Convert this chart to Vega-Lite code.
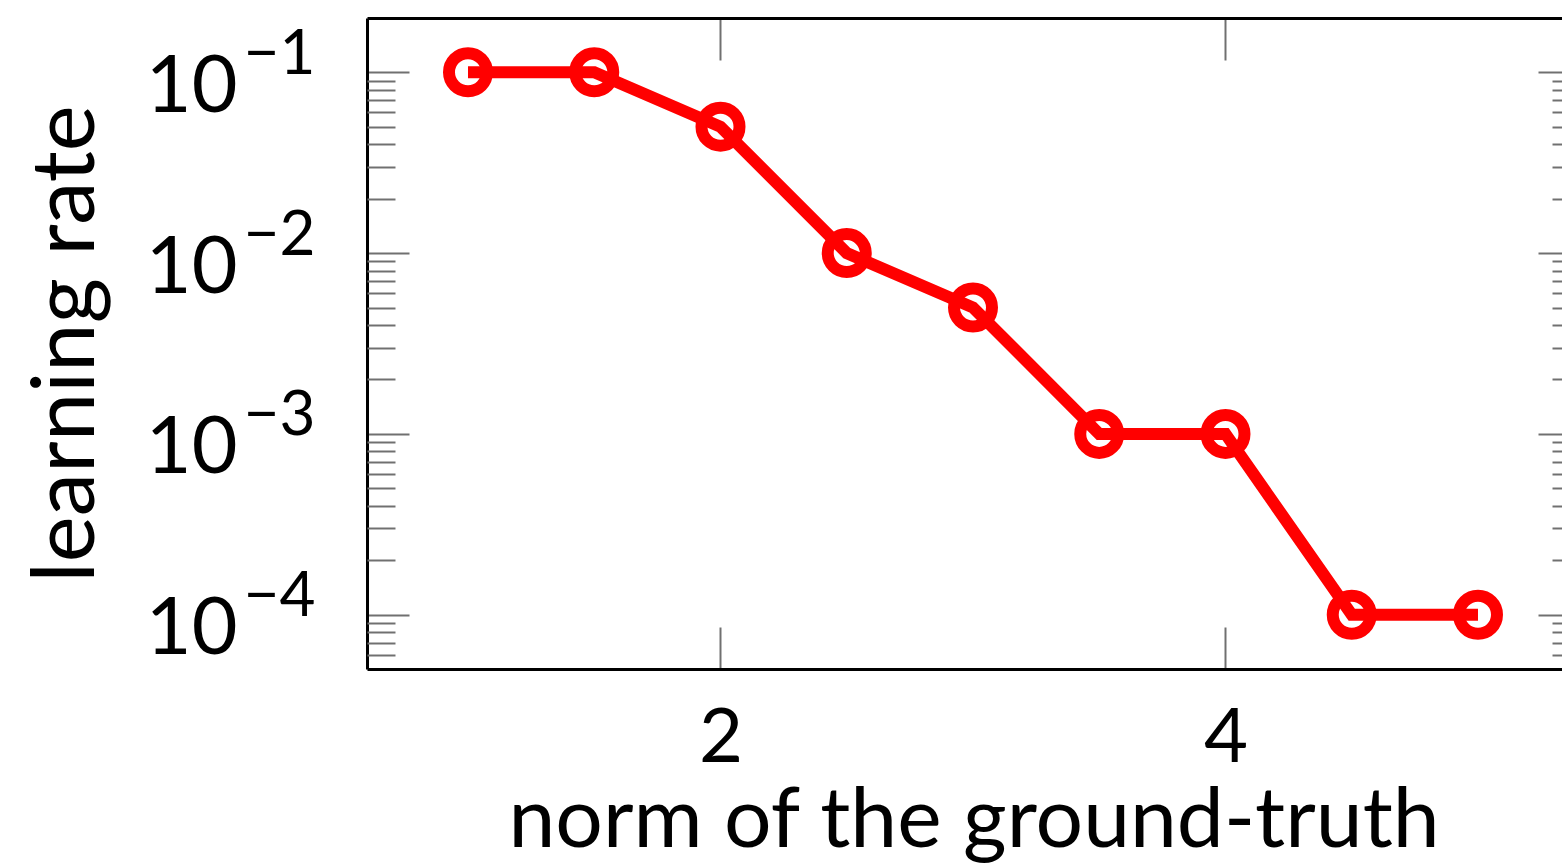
{
  "$schema": "https://vega.github.io/schema/vega-lite/v6.json",
  "width": 1195,
  "height": 651,
  "autosize": {"type": "none"},
  "padding": {"left": 367, "top": 18, "right": 0, "bottom": 196},
  "background": "white",
  "config": {
    "view": {"stroke": null},
    "font": "Lato",
    "axis": {
      "grid": false,
      "tickColor": "#707070",
      "tickWidth": 2,
      "domainColor": "#000000",
      "domainWidth": 3,
      "labelColor": "#000000",
      "titleColor": "#000000",
      "labelFont": "Lato",
      "titleFont": "Lato",
      "labelFontWeight": "normal",
      "titleFontWeight": "normal",
      "labelOverlap": false,
      "labelFlush": false
    }
  },
  "data": {
    "values": [
      {"norm": 1.0, "lr": 0.1},
      {"norm": 1.5, "lr": 0.1},
      {"norm": 2.0, "lr": 0.05},
      {"norm": 2.5, "lr": 0.01},
      {"norm": 3.0, "lr": 0.005},
      {"norm": 3.5, "lr": 0.001},
      {"norm": 4.0, "lr": 0.001},
      {"norm": 4.5, "lr": 0.0001},
      {"norm": 5.0, "lr": 0.0001}
    ]
  },
  "resolve": {"axis": {"x": "independent", "y": "independent"}},
  "layer": [
    {
      "mark": {"type": "line", "color": "#ff0000", "strokeWidth": 12},
      "encoding": {
        "x": {
          "field": "norm", "type": "quantitative",
          "scale": {"domain": [0.6, 5.3327], "nice": false, "zero": false},
          "axis": {
            "orient": "bottom", "values": [2, 4], "tickSize": -42,
            "labelFontSize": 76, "labelPadding": 134, "labelBaseline": "alphabetic", "labelAngle": 0,
            "title": "norm of the ground-truth", "titleFontSize": 84,
            "titleX": 606.5, "titleY": 177, "titleBaseline": "alphabetic", "titleAlign": "center",
            "domain": true
          }
        },
        "y": {
          "field": "lr", "type": "quantitative",
          "scale": {"type": "log", "domain": [0.000050119, 0.19953], "nice": false},
          "axis": {
            "orient": "left", "values": [0.0001, 0.001, 0.01, 0.1], "tickSize": -42,
            "labelExpr": "'10'", "labelFontSize": 79, "labelPadding": 172, "labelAlign": "right",
            "labelBaseline": "alphabetic", "labelOffset": 39,
            "title": "learning rate", "titleFontSize": 87, "titleAngle": -90,
            "titleX": -274, "titleY": 325.5, "titleAlign": "center", "titleBaseline": "alphabetic",
            "domain": true
          }
        }
      }
    },
    {
      "mark": {"type": "point", "shape": "circle", "filled": false, "color": "#ff0000", "strokeWidth": 12, "size": 1444, "opacity": 1},
      "encoding": {
        "x": {
          "field": "norm", "type": "quantitative",
          "scale": {"domain": [0.6, 5.3327], "nice": false, "zero": false},
          "axis": {"orient": "top", "values": [2, 4], "tickSize": -42, "labels": false, "title": null, "domain": true}
        },
        "y": {
          "field": "lr", "type": "quantitative",
          "scale": {"type": "log", "domain": [0.000050119, 0.19953], "nice": false},
          "axis": {
            "orient": "left", "values": [0.0001, 0.001, 0.01, 0.1], "ticks": false, "domain": false,
            "labelExpr": "'−' + round(-log(datum.value) / LN10)", "labelFontSize": 62,
            "labelAlign": "left", "labelPadding": 124, "labelBaseline": "alphabetic", "labelOffset": 1,
            "title": null
          }
        }
      }
    },
    {
      "mark": {"type": "point", "opacity": 0},
      "encoding": {
        "x": {"field": "norm", "type": "quantitative", "scale": {"domain": [0.6, 5.3327], "nice": false, "zero": false}, "axis": null},
        "y": {
          "field": "lr", "type": "quantitative",
          "scale": {"type": "log", "domain": [0.000050119, 0.19953], "nice": false},
          "axis": {
            "orient": "left",
            "values": [0.00006, 0.00007, 0.00008, 0.00009, 0.0002, 0.0003, 0.0004, 0.0005, 0.0006, 0.0007, 0.0008, 0.0009, 0.002, 0.003, 0.004, 0.005, 0.006, 0.007, 0.008, 0.009, 0.02, 0.03, 0.04, 0.05, 0.06, 0.07, 0.08, 0.09],
            "tickSize": -28, "labels": false, "domain": false, "title": null
          }
        }
      }
    },
    {
      "mark": {"type": "point", "opacity": 0},
      "encoding": {
        "x": {"field": "norm", "type": "quantitative", "scale": {"domain": [0.6, 5.3327], "nice": false, "zero": false}, "axis": null},
        "y": {
          "field": "lr", "type": "quantitative",
          "scale": {"type": "log", "domain": [0.000050119, 0.19953], "nice": false},
          "axis": {"orient": "right", "values": [0.0001, 0.001, 0.01, 0.1], "tickSize": -24, "labels": false, "domain": false, "title": null}
        }
      }
    },
    {
      "mark": {"type": "point", "opacity": 0},
      "encoding": {
        "x": {"field": "norm", "type": "quantitative", "scale": {"domain": [0.6, 5.3327], "nice": false, "zero": false}, "axis": null},
        "y": {
          "field": "lr", "type": "quantitative",
          "scale": {"type": "log", "domain": [0.000050119, 0.19953], "nice": false},
          "axis": {
            "orient": "right",
            "values": [0.00006, 0.00007, 0.00008, 0.00009, 0.0002, 0.0003, 0.0004, 0.0005, 0.0006, 0.0007, 0.0008, 0.0009, 0.002, 0.003, 0.004, 0.005, 0.006, 0.007, 0.008, 0.009, 0.02, 0.03, 0.04, 0.05, 0.06, 0.07, 0.08, 0.09],
            "tickSize": -10, "labels": false, "domain": false, "title": null
          }
        }
      }
    }
  ]
}
